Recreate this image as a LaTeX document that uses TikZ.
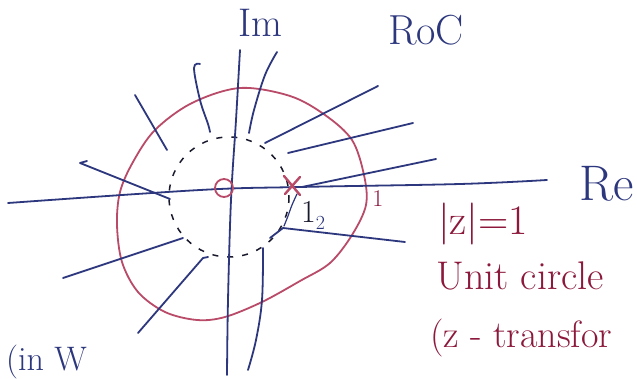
\documentclass[tikz,border=0pt]{standalone}
\usepackage{fontspec}
\definecolor{inkblue}{RGB}{45,55,125}
\definecolor{inkred}{RGB}{185,75,105}
\definecolor{textred}{RGB}{140,25,60}
\definecolor{inkblack}{RGB}{25,25,45}
\tikzset{
  bluepen/.style={draw=inkblue,line width=1.8pt,line cap=round,line join=round},
  redpen/.style={draw=inkred,line width=1.8pt,line cap=round,line join=round},
  dashpen/.style={draw=inkblack,line width=1.5pt,dash pattern=on 6pt off 9pt},
  bluetext/.style={text=inkblue,inner sep=0pt},
  redtext/.style={text=textred,inner sep=0pt},
}
\begin{document}
\begin{tikzpicture}[x=1pt,y=-1pt]
\useasboundingbox (0,0) rectangle (637,379);
\clip (0,0) rectangle (637,379);
\fill[white] (0,0) rectangle (637,379);

% region of convergence boundary (red, hand-drawn)
\draw[redpen] plot[smooth cycle,tension=0.55] coordinates {
 (240,88) (290,96) (325,115) (352,140) (364,175) (366,205) (352,235)
 (330,263) (300,281) (262,302) (225,317) (197,320) (165,312) (138,292)
 (122,262) (117,225) (120,192) (133,162) (155,130) (192,103)};

% dashed circle |z| = 1/2
\draw[dashpen] (229,197) circle[radius=60];

% axes
\draw[bluepen] plot[smooth,tension=0.6] coordinates {(8,203) (200,190) (300,187) (460,184) (547,180)};
\draw[bluepen] plot[smooth,tension=0.6] coordinates {(240,50) (236,120) (231,200) (228,300) (227,375)};

% radial strokes (region |z| > 1/2)
\draw[bluepen] (135,95) -- (167,150);
\draw[bluepen] plot[smooth,tension=0.6] coordinates {(200,64) (194,68) (200,100) (208,124) (210,132)};
\draw[bluepen] plot[smooth,tension=0.6] coordinates {(277,52) (265,75) (254,110) (249,133)};
\draw[bluepen] (378,86) -- (265,143);
\draw[bluepen] (413,123) -- (288,153);
\draw[bluepen] (436,159) -- (302,187);
\draw[bluepen] (87,161) -- (80,163) -- (170,199);
\draw[bluepen] (270,238) -- (283,228) -- (405,242);
\draw[bluepen] (183,238) -- (63,278);
\draw[bluepen] (208,257) -- (203,258) -- (138,333);
\draw[bluepen] plot[smooth,tension=0.6] coordinates {(263,248) (262,300) (256,340) (248,370)};
% leader to 1/2
\draw[bluepen,line width=1.2pt] plot[smooth,tension=0.6] coordinates {(297,194) (292,205) (288,216) (284,226)};

% zero and pole
\draw[redpen] (224,188) circle[radius=9];
\draw[draw=inkred,line width=2.4pt,line cap=round] (284,176) -- (300,195) (300,177) -- (285,194);

% labels
\node[bluetext,font=\fontsize{40}{40}\selectfont] (im) at (260,23) {Im};
\node[bluetext,font=\fontsize{42}{42}\selectfont] (roc) at (426,30) {RoC};
\node[bluetext,font=\fontsize{50}{50}\selectfont] (re) at (607,184) {Re};
\node[text=inkblack,inner sep=0pt,font=\fontsize{32}{32}\selectfont] (half) at (313,215) {1\raisebox{-7pt}{\fontsize{20}{20}\selectfont\color{inkblue}2}};
\node[redtext,font=\fontsize{24}{24}\selectfont] (one) at (378,199) {1};
\node[redtext,font=\fontsize{42}{42}\selectfont] (absz) at (483,224) {|z|=1};
\node[redtext,font=\fontsize{40}{40}\selectfont] (unit) at (520,276) {Unit circle};
\node[redtext,anchor=west,font=\fontsize{38}{38}\selectfont] (ztr) at (430,338) {(z - transfor};
\node[text=inkblue,anchor=base west,inner sep=0pt,font=\fontsize{34}{34}\selectfont] (cinw) at (6,370) {(in W};
\end{tikzpicture}
\end{document}
